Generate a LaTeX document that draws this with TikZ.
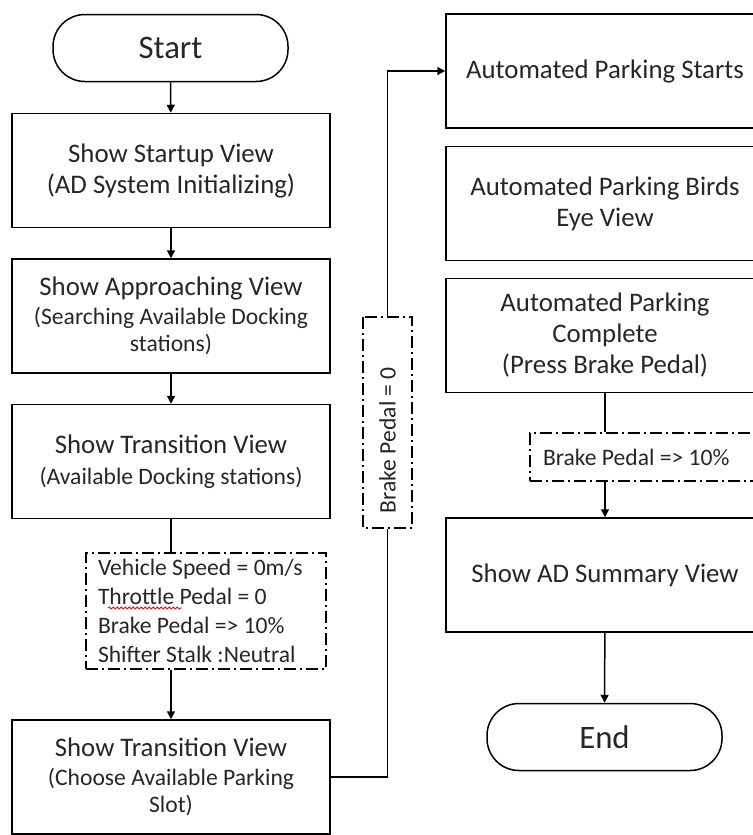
\documentclass[tikz,border=0pt]{standalone}
\usepackage{fontspec}
\setmainfont{Carlito}
\usetikzlibrary{arrows.meta,decorations.pathmorphing}
\newcommand\subtxt[1]{{\fontsize{11.8}{13.5}\selectfont #1}}
\begin{document}
\begin{tikzpicture}[x=0.5pt,y=-0.5pt,
  every node/.style={text=black!85},
  flowbox/.style={draw,line width=0.75pt,minimum width=159pt,minimum height=57pt,
    align=center,font=\fontsize{13.4}{15.5}\selectfont},
  termbox/.style={draw,line width=0.75pt,rounded corners=16pt,minimum width=117.5pt,
    minimum height=33.5pt,font=\fontsize{16.4}{19}\selectfont},
  condbox/.style={draw,line width=0.75pt,dash pattern=on 6pt off 2pt on 1pt off 2pt,
    align=flush left,font=\fontsize{11.8}{14.4}\selectfont},
  wire/.style={line width=0.75pt},
  wirearrow/.style={wire,-{Triangle[length=4pt,width=4pt]}}]%
\useasboundingbox (0,0) rectangle (753,835);
\clip (0,0) rectangle (753,835);
% left column
\node[termbox] (start) at (170.5,48) {Start};
\node[flowbox] (startup) at (171,170.5) {Show Startup View\\(AD System Initializing)};
\node[flowbox] (approach) at (171,316) {Show Approaching View\\[-1pt]
  \subtxt{(Searching Available Docking}\\[-2pt]\subtxt{stations)}};
\node[flowbox] (transA) at (171,461.5) {Show Transition View\\\subtxt{(Available Docking stations)}};
\node[condbox,text width=108pt,inner xsep=6pt,minimum height=56pt] (condA) at (206,611)
  {Vehicle Speed = 0m/s\\Throttle Pedal = 0\\Brake Pedal => 10\%\\Shifter Stalk :Neutral};
\draw[red,line width=0.4pt,decorate,decoration={snake,amplitude=0.5pt,segment length=2pt}]
  (108,608) -- (182,608);
\node[flowbox] (transB) at (171,777) {Show Transition View\\[-1pt]
  \subtxt{(Choose Available Parking}\\[-2pt]\subtxt{Slot)}};
% loop
\node[condbox,rotate=90,text width=90.5pt,inner xsep=7.5pt,minimum height=24.5pt] (brake)
  at (387.5,422.5) {Brake Pedal = 0};
% right column
\node[flowbox] (parkstart) at (605,71) {Automated Parking Starts};
\node[flowbox] (birdseye) at (605,203.5) {Automated Parking Birds\\Eye View};
\node[flowbox] (complete) at (605,335.5) {Automated Parking\\Complete\\(Press Brake Pedal)};
\node[condbox,text width=107pt,inner xsep=6.5pt,minimum height=24pt] (condB) at (650,457)
  {Brake Pedal => 10\%};
\node[flowbox] (summary) at (605,575) {Show AD Summary View};
\node[termbox] (end) at (604.5,737) {End};
\draw[wirearrow] (start) -- (startup);
\draw[wirearrow] (startup) -- (approach);
\draw[wirearrow] (approach) -- (transA);
\draw[wire] (transA) -- (transA.south |- condA.north);
\draw[wirearrow] (transB.north |- condA.south) -- (transB);
\draw[wire] (transB.east) -| (brake.west);
\draw[wirearrow] (brake.east) |- (parkstart.west);
\draw[wire] (complete) -- (complete.south |- condB.north);
\draw[wirearrow] (summary.north |- condB.south) -- (summary);
\draw[wirearrow] (summary) -- (end);
\end{tikzpicture}
\end{document}
